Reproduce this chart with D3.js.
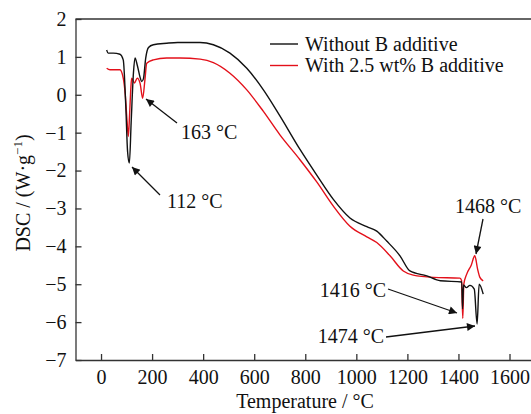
<!DOCTYPE html>
<html>
<head>
<meta charset="utf-8">
<script src="https://cdn.jsdelivr.net/npm/d3@7"></script>
<style>
  body { margin: 0; background: #fff; }
  svg text { font-family: "Liberation Serif", "DejaVu Serif", serif; fill: #111; }
</style>
</head>
<body>
<div id="chart"></div>
<script>
const width = 531;
const height = 414;

// series: without B additive (black)
const tempBlack = [22, 28, 48, 74, 87, 97, 104, 111, 118, 127, 133, 142, 153, 159, 166, 175, 186, 205, 257, 300, 388, 440, 505, 571, 636, 700, 780, 845, 910, 975, 1041, 1080, 1119, 1171, 1210, 1276, 1329, 1413, 1416, 1420, 1431, 1445, 1462, 1473, 1481, 1497];
const dscBlack  = [1.18, 1.10, 1.10, 1.07, 0.92, -0.30, -1.50, -1.80, -0.73, 0.58, 0.97, 0.78, 0.46, 0.35, 0.42, 0.97, 1.25, 1.32, 1.36, 1.38, 1.38, 1.32, 1.10, 0.70, 0.13, -0.55, -1.45, -2.12, -2.76, -3.25, -3.48, -3.60, -3.86, -4.25, -4.65, -4.78, -4.91, -4.94, -5.65, -5.02, -5.09, -5.03, -5.13, -6.05, -5.00, -5.26];

// series: with 2.5 wt% B additive (red)
const tempRed = [22, 35, 74, 87, 95, 102, 107, 112, 117, 120, 131, 142, 153, 163, 172, 179, 205, 257, 309, 388, 440, 505, 571, 636, 700, 780, 845, 910, 975, 1041, 1080, 1132, 1184, 1223, 1302, 1406, 1412, 1417, 1421, 1432, 1450, 1464, 1475, 1484, 1497];
const dscRed  = [0.70, 0.66, 0.66, 0.44, 0.00, -0.70, -1.10, -0.50, 0.20, 0.44, 0.31, 0.44, 0.30, -0.09, 0.40, 0.83, 0.92, 0.97, 0.97, 0.94, 0.85, 0.57, 0.13, -0.44, -1.05, -1.72, -2.30, -2.94, -3.47, -3.75, -3.90, -4.25, -4.65, -4.76, -4.82, -4.84, -4.90, -5.90, -5.00, -4.74, -4.50, -4.25, -4.60, -4.82, -4.91];

const xTicks = [0, 200, 400, 600, 800, 1000, 1200, 1400, 1600];
const yTicks = [-7, -6, -5, -4, -3, -2, -1, 0, 1, 2];
const seriesNames = ['Without B additive', 'With 2.5 wt% B additive'];
const seriesColors = ['#111111', '#e3101a'];

const noteLabels = ['163 °C', '112 °C', '1468 °C', '1416 °C', '1474 °C'];

const svg = d3.select('#chart').append('svg')
    .attr('width', width)
    .attr('height', height);

const xScale = d3.scaleLinear()
    .domain([-100, 1700])
    .range([75.5, 75.5 + 1800 * 0.2553]);

const yScale = d3.scaleLinear()
    .domain([-7, 2])
    .range([360, 19]);

const axisColor = '#333';
const fmt = d => d < 0 ? '\u2212' + Math.abs(d) : String(d);

/**
 * Axes, ticks pointing inside
 */
const xAxis = svg.append('g')
    .attr('transform', `translate(0, ${yScale(-7)})`)
    .call(d3.axisBottom(xScale).tickValues(xTicks).tickFormat(fmt)
        .tickSize(-6).tickPadding(10).tickSizeOuter(0));

const yAxis = svg.append('g')
    .attr('transform', `translate(${xScale(-100)}, 0)`)
    .call(d3.axisLeft(yScale).tickValues(yTicks).tickFormat(fmt)
        .tickSize(-6).tickPadding(9).tickSizeOuter(0));

[xAxis, yAxis].forEach(ax => {
    ax.attr('font-family', null);
    ax.select('.domain').attr('stroke', axisColor).attr('stroke-width', 1.3);
    ax.selectAll('.tick line').attr('stroke', axisColor).attr('stroke-width', 1.3);
    ax.selectAll('.tick text')
        .style('font-family', '"Liberation Serif", serif')
        .style('font-size', '20px')
        .attr('fill', '#111');
});

// top frame line
svg.append('line')
    .attr('x1', xScale(-100)).attr('x2', width)
    .attr('y1', yScale(2)).attr('y2', yScale(2))
    .attr('stroke', axisColor).attr('stroke-width', 1.3);

/**
 * Curves
 */
const line = d3.line()
    .x(d => xScale(d[0]))
    .y(d => yScale(d[1]))
    .curve(d3.curveMonotoneX);

const series = [
    d3.zip(tempBlack, dscBlack),
    d3.zip(tempRed, dscRed)
];

// red first so black sits on top
[1, 0].forEach(i => {
    svg.append('path')
        .datum(series[i])
        .attr('fill', 'none')
        .attr('stroke', seriesColors[i])
        .attr('stroke-width', 1.4)
        .attr('stroke-linejoin', 'round')
        .attr('d', line);
});

/**
 * Legend
 */
const legend = svg.append('g');
seriesNames.forEach((name, i) => {
    const y = 44 + i * 21.5;
    legend.append('line')
        .attr('x1', 270).attr('x2', 298)
        .attr('y1', y).attr('y2', y)
        .attr('stroke', seriesColors[i])
        .attr('stroke-width', 1.4);
    legend.append('text')
        .attr('x', 305).attr('y', y + 6.5)
        .attr('font-size', 20)
        .text(name);
});

/**
 * Annotations with arrows
 */
svg.append('defs').append('marker')
    .attr('id', 'arrow')
    .attr('viewBox', '0 0 10 10')
    .attr('refX', 10).attr('refY', 5)
    .attr('markerUnits', 'userSpaceOnUse')
    .attr('markerWidth', 12).attr('markerHeight', 8)
    .attr('orient', 'auto')
    .append('path')
    .attr('d', 'M0,0 L10,5 L0,10 z')
    .attr('fill', '#111');

const notes = [
    { label: noteLabels[0], tx: 181, ty: 139, anchor: 'start', from: [177, 123], to: [146, 99] },
    { label: noteLabels[1], tx: 167, ty: 208, anchor: 'start', from: [160, 195], to: [132, 167] },
    { label: noteLabels[2], tx: 455, ty: 213, anchor: 'start', from: [483, 219], to: [476, 254] },
    { label: noteLabels[3], tx: 386, ty: 297, anchor: 'end', from: [388, 289], to: [457, 313] },
    { label: noteLabels[4], tx: 384, ty: 343, anchor: 'end', from: [386, 337], to: [475, 326] }
];

notes.forEach(n => {
    svg.append('text')
        .attr('x', n.tx).attr('y', n.ty)
        .attr('text-anchor', n.anchor)
        .attr('font-size', 20)
        .text(n.label);
    svg.append('line')
        .attr('x1', n.from[0]).attr('y1', n.from[1])
        .attr('x2', n.to[0]).attr('y2', n.to[1])
        .attr('stroke', '#111')
        .attr('stroke-width', 1.3)
        .attr('marker-end', 'url(#arrow)');
});

/**
 * Axis titles
 */
svg.append('text')
    .attr('x', 305).attr('y', 408)
    .attr('text-anchor', 'middle')
    .attr('font-size', 20)
    .text('Temperature / °C');

const yTitle = svg.append('text')
    .attr('transform', 'translate(30, 193) rotate(-90)')
    .attr('text-anchor', 'middle')
    .attr('font-size', 20);
yTitle.append('tspan').text('DSC / (W·g');
yTitle.append('tspan').attr('font-size', 13).attr('dy', -8).text('−1');
yTitle.append('tspan').attr('dy', 8).text(')');
</script>
</body>
</html>
